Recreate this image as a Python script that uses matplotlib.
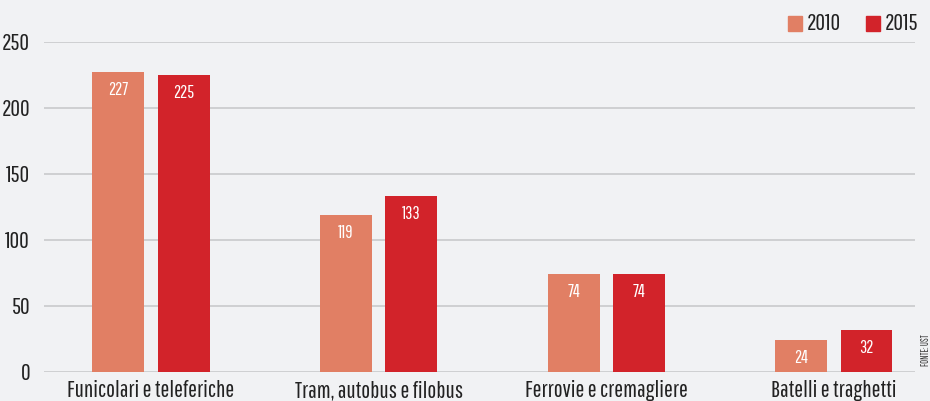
import numpy as np
import matplotlib
matplotlib.use("Agg")
import matplotlib.pyplot as plt

categories = ["Funicolari e teleferiche", "Tram, autobus e filobus",
              "Ferrovie e cremagliere", "Batelli e traghetti"]
years = ["2010", "2015"]
values_2010 = [227, 119, 74, 24]
values_2015 = [225, 133, 74, 32]
y_ticks = [0, 50, 100, 150, 200, 250]

C2010 = "#E17F64"
C2015 = "#D2232A"
BG = "#F1F2F4"
FONT = ["Pathway Gothic One", "Antonio", "DejaVu Sans"]

plt.rcParams["font.family"] = FONT

fig = plt.figure(figsize=(9.3, 4.01), dpi=100, facecolor=BG)
ax = fig.add_axes([44 / 930, 1 - 372 / 401, (915 - 44) / 930, (372 - 42) / 401])
ax.set_facecolor(BG)

x = np.arange(len(categories))
w = 0.228
off = 0.143
b1 = ax.bar(x - off, values_2010, w, color=C2010, zorder=3)
b2 = ax.bar(x + off, values_2015, w, color=C2015, zorder=3)

# value labels inside the top of each bar
for bars, vals in ((b1, values_2010), (b2, values_2015)):
    for b, v in zip(bars, vals):
        ax.annotate(str(v), (b.get_x() + b.get_width() / 2, v),
                    xytext=(0, -13), textcoords="offset points",
                    ha="center", va="center", color="white", fontsize=13, zorder=4)

ax.set_xlim(-0.47, 3.356)
ax.set_ylim(0, 250)
ax.set_yticks(y_ticks)
ax.set_yticklabels([str(t) for t in y_ticks], fontsize=17, color="#222222")
ax.set_xticks(x)
ax.set_xticklabels(categories, fontsize=17, color="#222222")
ax.tick_params(axis="both", length=0)
ax.tick_params(axis="y", pad=10)
ax.tick_params(axis="x", pad=6)
ax.grid(axis="y", color="#C9CACC", linewidth=1.2, zorder=0)
for s in ax.spines.values():
    s.set_visible(False)

# legend
for xs, yr, c in ((788, years[0], C2010), (866, years[1], C2015)):
    fig.patches.append(plt.Rectangle((xs / 930, 1 - 31 / 401), 14 / 930, 15 / 401,
                                     transform=fig.transFigure, color=c))
    fig.text((xs + 19) / 930, 1 - 23 / 401, yr, fontsize=17, va="center",
             ha="left", color="#222222")

fig.text(921 / 930, 1 - 350 / 401, "FONTE: UST", rotation=90, fontsize=7,
         va="center", ha="left", color="#333333")

fig.savefig("out.png", dpi=100, facecolor=BG)
